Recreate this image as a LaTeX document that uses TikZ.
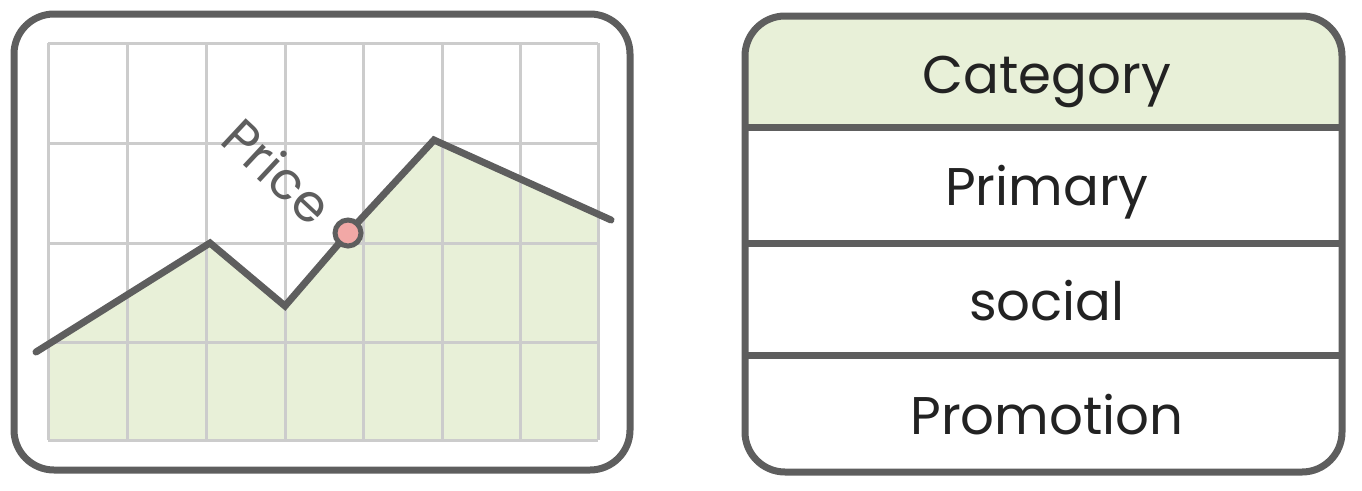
\documentclass[tikz,border=0pt]{standalone}
\usepackage{fontspec}
\setmainfont{Poppins}
\definecolor{edge}{HTML}{5E5E5E}
\definecolor{gridc}{HTML}{CCCCCC}
\definecolor{soft}{HTML}{E8F0D8}
\definecolor{dot}{HTML}{F2A8A6}
\definecolor{ink}{HTML}{222222}
\tikzset{
  frame/.style={draw=edge, line width=7pt, rounded corners=40pt},
  gridline/.style={draw=gridc, line width=3pt},
  trend/.style={draw=edge, line width=7pt, line join=miter, line cap=round},
  cell/.style={font=\fontsize{53}{58}\selectfont, text=ink, inner sep=0pt, anchor=base},
}
\begin{document}
\begin{tikzpicture}[x=1pt,y=-1pt]
\useasboundingbox (0,0) rectangle (1362,490);
% left chart
\fill[soft] (48,440) -- (48,344.5) -- (210,243) -- (285,306) -- (348,233) -- (434,140) -- (598,214) -- (598,440) -- cycle;
\foreach \x in {48,127,206,285,363,442,520,598} \draw[gridline] (\x,43) -- (\x,440);
\foreach \y in {43,143,243,342,440} \draw[gridline] (48,\y) -- (598,\y);
\coordinate (p0) at (36,352);
\coordinate (p1) at (210,243);
\coordinate (p2) at (285,306);
\coordinate (p3) at (348,233);
\coordinate (p4) at (434,140);
\coordinate (p5) at (611,220);
\draw[trend] (p0) -- (p1) -- (p2) -- (p3) -- (p4) -- (p5);
\node[circle, draw=edge, line width=5pt, fill=dot, minimum size=26pt, inner sep=0pt] (pt) at (p3) {};
\node[font=\fontsize{52}{56}\selectfont, text=edge, rotate=-43, inner sep=0pt] (price) at (278,171) {Price};
\node[frame, minimum width=616pt, minimum height=456pt, inner sep=0pt] (chart) at (322,242) {};
% right table
\begin{scope}
\clip[rounded corners=40pt] (745,16) rectangle (1342,472);
\fill[soft] (745,16) rectangle (1342,127);
\end{scope}
\node[frame, minimum width=597pt, minimum height=456pt, inner sep=0pt] (table) at (1043.5,244) {};
\draw[draw=edge, line width=7pt] (745,127) -- (1342,127);
\draw[draw=edge, line width=7pt] (745,243) -- (1342,243);
\draw[draw=edge, line width=7pt] (745,355) -- (1342,355);
\node[cell] (cat) at (1047,93) {Category};
\node[cell] (pri) at (1047,205) {Primary};
\node[cell] (soc) at (1047,320) {social};
\node[cell] (pro) at (1047,434) {Promotion};
\end{tikzpicture}
\end{document}
